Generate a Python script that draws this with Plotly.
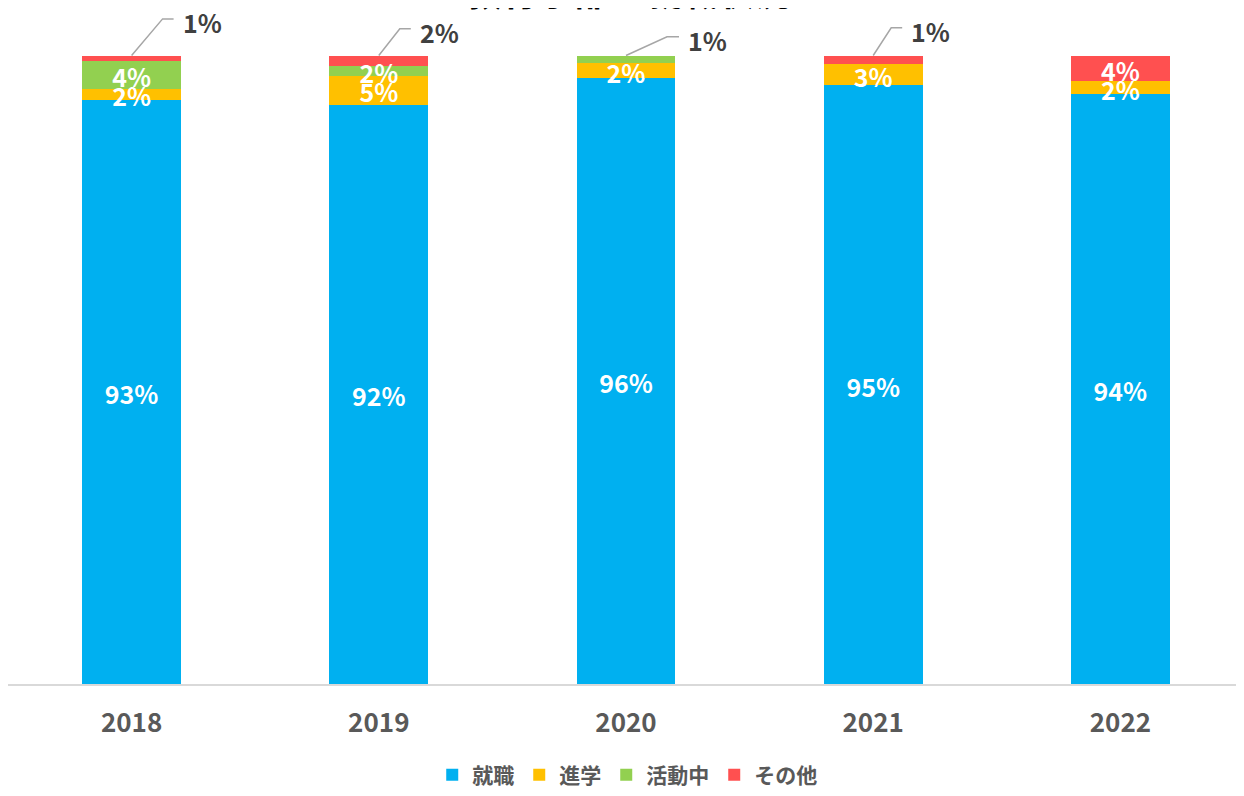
import plotly.graph_objects as go

years = ["2018", "2019", "2020", "2021", "2022"]
series_names = ["就職", "進学", "活動中", "その他"]
shushoku = [93.0, 92.2, 96.4, 95.3, 93.9]
shingaku = [1.7, 4.6, 2.4, 3.3, 2.0]
katsudo = [4.4, 1.6, 1.2, 0.0, 0.0]
sonota = [0.9, 1.6, 0.0, 1.4, 4.1]
title_text = "教育学部　就職状況"

values = [shushoku, shingaku, katsudo, sonota]
colors = ["#00B0F0", "#FFC000", "#92D050", "#FF5050"]

# callouts (series index, year index) -> elbow dx px, dy px, end dx px
callouts = {
    (3, 0): (31, 37, 42),
    (3, 1): (21, 27, 32),
    (2, 2): (41, 19, 53),
    (3, 3): (18, 28, 29),
}

FONT = "Noto Sans CJK JP"
# page body has an 8px margin, so the figure is sized to fill the rest of the window
W, H = 1236, 788
ML, MR, MT, MB = 0, 0, 0, 105
plot_w = W - ML - MR
plot_h = H - MT - MB          # 683
px_y = 635 / 100.0            # px per % (100% bar = 635 px)
y_max = plot_h / px_y
px_x = plot_w / 5.0
label_drop = 6 / px_y         # inside labels sit slightly below segment centre

xs = list(range(len(years)))
fig = go.Figure()
for name, vals, col in zip(series_names, values, colors):
    fig.add_trace(go.Bar(x=xs, y=vals, name=name, marker=dict(color=col, line=dict(width=0)),
                         hoverinfo="skip"))

cum = [0.0] * len(years)
in_x, in_y, in_t = [], [], []
for si, vals in enumerate(values):
    for yi, v in enumerate(vals):
        base = cum[yi]
        top = base + v
        cum[yi] = top
        if v <= 0:
            continue
        label = f"{v:.0f}%"
        if (si, yi) in callouts:
            edx, edy, endx = callouts[(si, yi)]
            lx = [yi, yi + edx / px_x, yi + endx / px_x]
            ly = [top, top + edy / px_y, top + edy / px_y]
            fig.add_trace(go.Scatter(x=lx, y=ly, mode="lines", showlegend=False,
                                     line=dict(color="#A6A6A6", width=1.5),
                                     hoverinfo="skip", cliponaxis=False))
            fig.add_annotation(x=lx[-1], y=ly[-1], xref="x", yref="y", text=label,
                               showarrow=False, xanchor="left", yanchor="middle",
                               xshift=7, yshift=-3,
                               font=dict(family=FONT, size=25, color="#404040", weight="bold"))
        else:
            in_x.append(yi)
            in_y.append((base + top) / 2 - label_drop)
            in_t.append(label)

fig.add_trace(go.Scatter(x=in_x, y=in_y, text=in_t, mode="text", showlegend=False,
                         textfont=dict(family=FONT, size=25, color="white", weight="bold"),
                         hoverinfo="skip", cliponaxis=False))

fig.add_annotation(text=title_text, xref="paper", yref="paper", x=619.5 / W, y=1 + 18 / plot_h,
                   xanchor="center", yanchor="middle", showarrow=False,
                   font=dict(family=FONT, size=36, color="black", weight="bold"))

fig.update_layout(
    width=W, height=H,
    barmode="stack", bargap=0.6,
    plot_bgcolor="white", paper_bgcolor="white",
    margin=dict(l=ML, r=MR, t=MT, b=MB),
    xaxis=dict(range=[-0.5, 4.5], tickvals=xs, ticktext=years, showgrid=False,
               zeroline=False, showline=True, linecolor="#D9D9D9", linewidth=1.5,
               ticks="", ticklabelstandoff=15,
               tickfont=dict(family=FONT, size=26, color="#595959", weight="bold")),
    yaxis=dict(range=[0, y_max], visible=False, showgrid=False, zeroline=False),
    legend=dict(orientation="h", x=0.501, xanchor="center", y=-(775 - plot_h) / plot_h,
                yanchor="middle", traceorder="normal", itemclick=False,
                font=dict(family=FONT, size=21, color="#595959", weight="bold")),
    showlegend=True,
)

fig.write_html("out.html")
